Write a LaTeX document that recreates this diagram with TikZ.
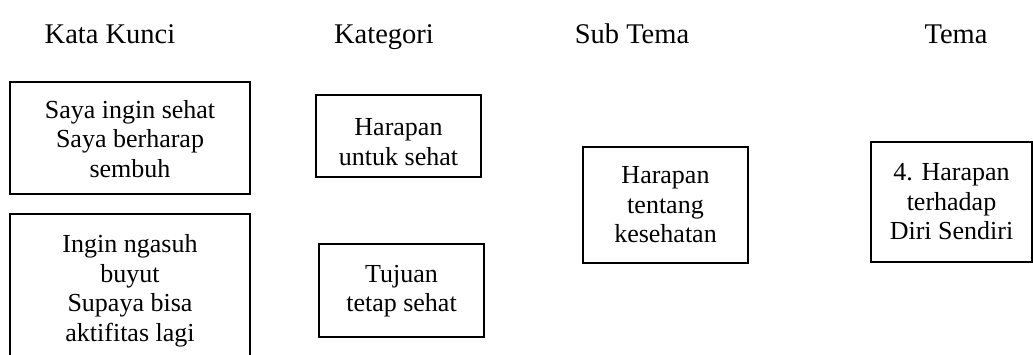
\documentclass[tikz,border=0pt]{standalone}
\usepackage{fontspec}
\setmainfont{Liberation Serif}
\begin{document}
\begin{tikzpicture}[x=1pt,y=-1pt,
  head/.style={font=\fontsize{28.5}{32}\selectfont, anchor=base},
  frame/.style={draw, line width=1.3pt, inner sep=0pt},
  txt/.style={align=center, inner sep=0pt, font=\fontsize{26}{29.5}\selectfont},
]
\useasboundingbox (0,0) rectangle (1033,354);
\clip (0,0) rectangle (1033,354);

% column headings
\node[head] (h1) at (110,43) {Kata Kunci};
\node[head] (h2) at (384,43) {Kategori};
\node[head] (h3) at (632,43) {Sub Tema};
\node[head] (h4) at (956,43) {Tema};

% keyword boxes
\node[frame, minimum width=240pt, minimum height=112pt] (k1) at (130,138) {};
\node[txt] (k1t) at (130,139) {Saya ingin sehat\\Saya berharap\\sembuh};
\node[frame, minimum width=240pt, minimum height=152pt] (k2) at (130,290) {};
\node[txt] (k2t) at (130,291) {Ingin ngasuh\\buyut\\Supaya bisa\\aktifitas lagi};

% category boxes
\node[frame, minimum width=165pt, minimum height=82pt] (c1) at (398.5,136) {};
\node[txt] (c1t) at (398.5,142) {Harapan\\untuk sehat};
\node[frame, minimum width=165pt, minimum height=93pt] (c2) at (401.5,290.5) {};
\node[txt] (c2t) at (401.5,291) {Tujuan\\tetap sehat};

% sub-theme box
\node[frame, minimum width=165pt, minimum height=116pt] (s1) at (665.5,205) {};
\node[txt] (s1t) at (665.5,205) {Harapan\\tentang\\kesehatan};

% theme box
\node[frame, minimum width=161pt, minimum height=120pt] (t1) at (951.5,202) {};
\node[txt] (t1t) at (951.5,202) {4. Harapan\\terhadap\\Diri Sendiri};
\end{tikzpicture}
\end{document}
